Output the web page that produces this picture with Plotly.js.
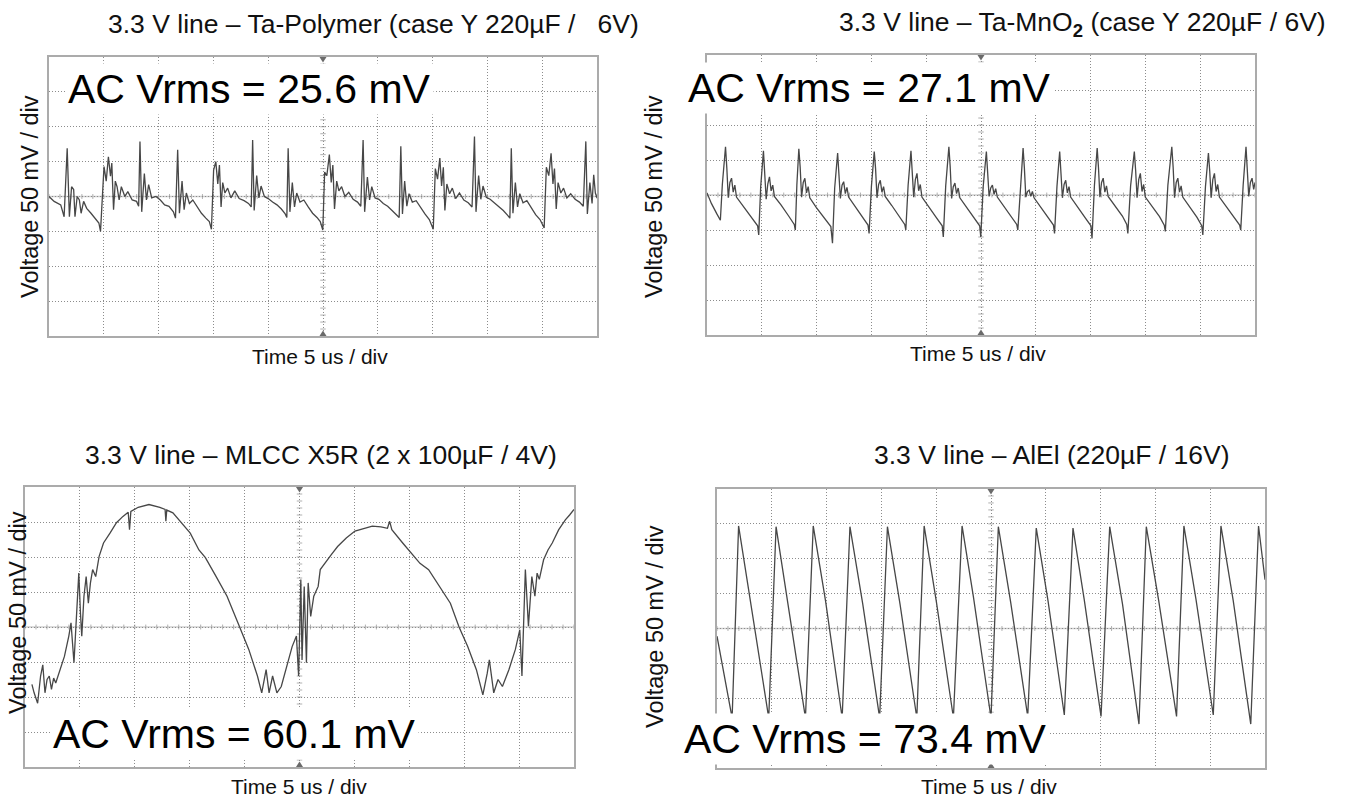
<!DOCTYPE html>
<html><head><meta charset="utf-8">
<script src="https://cdn.plot.ly/plotly-3.0.1.min.js"></script>
<style>html,body{margin:0;padding:0;background:#fff;overflow:hidden}#chart{width:1346px;height:799px}</style>
</head><body><div id="chart"></div>
<script>
// ---------------- data (time in µs, voltage in mV; 5 µs/div, 50 mV/div) ----------------
const panelTitles = [
  '3.3 V line \u2013 Ta-Polymer (case Y 220\u00b5F /\u00a0\u00a0 6V)',
  '3.3 V line \u2013 Ta-MnO<sub><b>2</b></sub> (case Y 220\u00b5F / 6V)',
  '3.3 V line \u2013 MLCC X5R (2 x 100\u00b5F / 4V)',
  '3.3 V line \u2013 AlEl (220\u00b5F / 16V)'
];
const acVrmsTexts = ['AC Vrms = 25.6 mV', 'AC Vrms = 27.1 mV', 'AC Vrms = 60.1 mV', 'AC Vrms = 73.4 mV'];
const yLabelText = 'Voltage 50 mV / div';
const xLabelText = 'Time 5 us / div';

const timeTaPolymer = [0.00,0.47,1.07,1.38,1.66,1.86,2.06,2.25,2.37,2.57,2.77,2.93,3.16,3.44,3.83,4.23,4.55,4.70,
  5.02,5.22,5.42,5.61,5.73,5.89,6.05,6.21,6.40,6.60,6.92,7.19,7.59,7.99,8.18,8.30,8.46,8.70,8.89,9.09,9.37,9.76,10.16,10.55,10.95,11.35,11.54,11.74,11.90,12.14,12.33,12.53,12.81,13.12,13.52,13.91,14.31,14.63,14.82,
  15.02,15.22,15.40,15.55,15.70,15.85,16.05,16.30,16.60,16.95,17.35,17.80,18.20,18.45,18.58,18.72,18.95,19.15,19.35,19.65,20.00,20.40,20.80,21.20,21.55,21.70,21.82,21.98,22.20,22.40,22.60,22.90,23.25,23.65,24.05,24.45,24.75,24.98,
  25.15,25.35,25.58,25.75,25.90,26.05,26.25,26.45,26.70,27.00,27.35,27.75,28.15,28.45,28.66,28.80,29.05,29.25,29.45,29.75,30.10,30.50,30.90,31.30,31.70,31.95,32.10,32.25,32.45,32.65,32.85,33.15,33.50,33.90,34.30,34.70,35.06,
  35.25,35.45,35.66,35.82,35.98,36.12,36.30,36.55,36.80,37.10,37.45,37.85,38.25,38.60,38.82,38.96,39.20,39.40,39.60,39.90,40.25,40.65,41.05,41.45,41.85,42.05,42.18,42.33,42.55,42.75,42.95,43.25,43.60,44.00,44.40,44.80,45.18,
  45.38,45.60,45.81,45.98,46.12,46.28,46.45,46.70,46.95,47.25,47.60,48.00,48.40,48.75,48.98,49.12,49.35,49.55,49.70,49.85,50.00];
const voltTaPolymer = [0,-7,-12,-29,69,-29,14,10,-29,0,-5,-24,-7,-17,-24,-31,-38,-50,
  43,22,57,29,48,-19,22,14,-5,14,0,7,-5,-7,-14,79,-22,33,-5,17,-2,0,-5,-12,-14,-22,-31,67,-24,22,-19,5,-10,-5,-14,-24,-31,-36,-47,
  38,50,18,45,-15,20,5,12,-2,8,-3,-6,-10,-15,81,-20,30,-2,15,0,-3,-8,-12,-18,-25,-30,69,-22,20,-15,5,-8,-5,-15,-24,-30,-36,-48,
  35,30,60,20,45,-18,22,8,14,0,6,-4,-8,-14,81,-22,28,-5,14,-2,-4,-10,-14,-20,-26,-30,72,-25,22,-14,4,-8,-6,-16,-25,-33,-47,
  40,25,55,15,42,-20,18,4,12,-3,5,-5,-9,-15,86,-22,30,-4,15,-1,-4,-9,-14,-20,-27,-31,69,-24,20,-15,4,-9,-6,-16,-26,-33,-45,
  42,30,62,18,40,-18,20,5,12,-2,4,-4,-8,-14,79,-25,20,-10,31,5,-2];

const timeTaMnO2 = [0,0.40,0.90,
  1.22,1.40,1.69,1.81,1.94,2.09,2.24,2.39,2.54,2.69,3.29,3.99,4.62,4.72,
  4.90,5.15,5.27,5.40,5.55,5.70,5.85,6.00,6.15,6.75,7.45,7.96,8.06,
  8.20,8.38,8.50,8.63,8.78,8.93,9.08,9.23,9.38,9.98,10.68,11.30,11.45,
  11.65,11.92,12.04,12.17,12.32,12.47,12.62,12.77,12.92,13.52,14.22,14.69,14.79,
  15.00,15.26,15.38,15.51,15.66,15.81,15.96,16.11,16.26,16.86,17.56,18.04,18.14,
  18.35,18.61,18.73,18.86,19.01,19.16,19.31,19.46,19.61,20.21,20.91,21.46,21.56,
  21.78,22.07,22.19,22.32,22.47,22.62,22.77,22.92,23.07,23.67,24.37,24.88,24.98,
  25.20,25.49,25.61,25.74,25.89,26.04,26.19,26.34,26.49,27.09,27.79,28.26,28.36,
  28.58,28.84,28.96,29.09,29.24,29.39,29.54,29.69,29.84,30.44,31.14,31.61,31.71,
  31.93,32.18,32.30,32.43,32.58,32.73,32.88,33.03,33.18,33.78,34.48,35.03,35.13,
  35.35,35.60,35.72,35.85,36.00,36.15,36.30,36.45,36.60,37.20,37.90,38.30,38.40,
  38.65,38.99,39.11,39.24,39.39,39.54,39.69,39.84,39.99,40.59,41.29,41.72,41.82,
  42.05,42.41,42.53,42.66,42.81,42.96,43.11,43.26,43.41,44.01,44.71,45.14,45.24,
  45.48,45.75,45.87,46.00,46.15,46.30,46.45,46.60,46.75,47.35,48.05,48.60,48.70,
  48.92,49.18,49.30,49.43,49.58,49.73,49.88,50.00];
const voltTaMnO2 = [3,-12,-27,
  -36,15,69,38,-4,18,24,4,14,-3,-16,-32,-44,-57,
  12,63,36,-6,16,26,6,14,-2,-14,-30,-42,-50,
  15,66,40,-3,18,24,3,12,-4,-18,-33,-45,-69,
  10,60,33,-5,14,19,2,11,-3,-16,-31,-43,-55,
  12,62,38,-4,15,21,4,12,-2,-15,-31,-42,-50,
  14,63,36,-3,22,31,6,15,-3,-17,-32,-44,-60,
  13,69,40,-5,12,17,2,10,-4,-17,-32,-44,-60,
  12,62,36,-2,10,14,1,9,-3,-16,-31,-42,-50,
  12,67,38,-3,5,7,-2,5,-4,-17,-32,-43,-55,
  12,62,35,-4,15,21,3,12,-3,-17,-32,-44,-62,
  14,67,39,-3,18,24,4,13,-2,-15,-30,-42,-55,
  13,62,35,-4,22,31,5,15,-3,-16,-31,-43,-52,
  14,69,40,-4,18,24,4,13,-3,-17,-32,-44,-57,
  12,60,34,-4,22,31,5,15,-3,-16,-31,-43,-50,
  14,69,38,-2,18,24,8,18];

const timeMLCC = [0.63,0.83,1.15,1.42,1.62,1.82,2.01,2.21,2.41,2.61,2.80,3.20,3.59,3.99,4.19,4.46,4.70,4.90,5.05,5.17,
  5.37,5.57,5.77,5.96,6.16,6.44,6.75,7.15,7.74,8.33,8.92,9.40,9.52,9.64,10.31,11.29,12.28,12.76,12.83,12.91,
  13.47,14.26,15.05,15.84,16.43,17.41,18.40,19.39,20.38,21.17,21.56,21.96,22.23,22.55,22.94,23.34,23.73,24.33,24.72,24.92,
  25.12,25.23,25.43,25.63,25.79,26.02,26.30,26.70,26.89,27.29,27.88,28.47,29.26,30.05,30.84,31.63,32.42,33.01,33.21,33.41,
  34.40,35.19,35.97,36.76,37.36,37.95,38.74,39.53,40.32,41.11,41.70,42.10,42.29,42.69,43.08,43.48,44.07,44.66,45.06,45.26,
  45.57,45.85,46.16,46.44,46.64,46.84,47.23,47.63,48.02,48.61,49.21,49.60,50.00];
const voltMLCC = [-82,-94,-109,-70,-54,-94,-75,-70,-89,-73,-80,-61,-42,-13,6,-51,25,77,20,-13,
  44,72,34,63,82,72,101,120,134,149,158,164,139,165,171,175,171,168,151,167,
  163,149,134,110,99,72,44,6,-32,-70,-94,-61,-94,-70,-94,-85,-61,-28,-13,-70,
  68,-47,58,-51,63,15,44,58,82,91,103,115,127,137,141,144,143,141,151,139,
  120,106,91,82,68,53,34,0,-28,-61,-97,-66,-47,-94,-75,-85,-61,-32,-4,-70,
  82,1,72,44,77,68,96,110,120,139,153,160,168];

const timeAlEl = [0,0.70,1.38,1.97,3.00,4.72,5.39,6.50,8.07,8.78,9.90,11.42,12.13,13.30,14.84,15.55,16.70,18.23,
  18.90,20.00,21.57,22.36,23.40,25.00,25.67,26.80,28.35,29.13,30.20,31.69,32.48,33.50,35.04,35.83,37.00,38.50,
  39.17,40.30,41.93,42.60,43.70,45.28,45.98,47.10,48.70,49.41,50.00];
const voltAlEl = [-11,-70,-128,147,45,-128,146,35,-128,147,40,-128,146,35,-128,146,35,-128,
  147,40,-128,147,45,-128,146,37,-126,144,40,-124,144,42,-126,146,35,-137,
  146,40,-126,147,42,-124,147,40,-137,147,70];

// ---------------- layout constants (pixels in a 1346x799 page) ----------------
const W = 1346, H = 799;
const boxes = [
  {l: 49, t: 57, r: 597, b: 336},
  {l: 707, t: 55, r: 1255, b: 335},
  {l: 25, t: 487, r: 574, b: 767},
  {l: 717, t: 489, r: 1265, b: 768}
];
const titlePos = [[373, 24], [1082, 24], [321, 455], [1052, 455]];
const acPos = [[65, 89], [685, 88], [50, 734], [681, 739]];
const yLabPos = [[30, 197], [654, 197], [18, 613], [655, 627]];
const xLabPos = [[320, 356], [978, 353], [299, 786], [989, 786]];
const series = [
  [timeTaPolymer, voltTaPolymer],
  [timeTaMnO2, voltTaMnO2],
  [timeMLCC, voltMLCC],
  [timeAlEl, voltAlEl]
];
const font = 'Arial, "Liberation Sans", sans-serif';
const T_RANGE = [0, 50], V_RANGE = [-200, 200];
const px = x => x / W, py = y => 1 - y / H;

const traces = [];
const layout = {
  width: W, height: H, margin: {l: 0, r: 0, t: 0, b: 0},
  paper_bgcolor: '#fff', plot_bgcolor: '#fff', showlegend: false,
  font: {family: font, color: '#000'},
  annotations: [], shapes: []
};

boxes.forEach((b, i) => {
  const n = i === 0 ? '' : String(i + 1);
  const xa = 'xaxis' + n, ya = 'yaxis' + n, xr = 'x' + n, yr = 'y' + n;
  const common = {
    showgrid: true, gridcolor: '#8c8c8c', griddash: '1px,2px', gridwidth: 1,
    zeroline: false, showline: true, mirror: true, linecolor: '#ababab', linewidth: 2,
    ticks: '', showticklabels: false, fixedrange: true, layer: 'below traces'
  };
  layout[xa] = Object.assign({}, common, {domain: [px(b.l), px(b.r)], range: T_RANGE, tick0: 0, dtick: 5, anchor: yr});
  layout[ya] = Object.assign({}, common, {domain: [py(b.b), py(b.t)], range: V_RANGE, tick0: -200, dtick: 50, anchor: xr});

  traces.push({
    type: 'scatter', mode: 'lines', x: series[i][0], y: series[i][1],
    xaxis: xr, yaxis: yr, line: {color: '#474747', width: 1.3}, hoverinfo: 'skip', cliponaxis: true
  });

  // centre cross with minor ticks (0.2 div)
  const tc = (T_RANGE[0] + T_RANGE[1]) / 2;
  const hT = 3.5, wT = 0.25;
  let p1 = '';
  for (let t = T_RANGE[0]; t <= T_RANGE[1] + 1e-9; t += 1) p1 += `M${t},${-hT}L${t},${hT}`;
  let p2 = '';
  for (let v = V_RANGE[0]; v <= V_RANGE[1] + 1e-9; v += 10) p2 += `M${tc - wT},${v}L${tc + wT},${v}`;
  layout.shapes.push(
    {type: 'line', xref: xr, yref: yr, x0: T_RANGE[0], x1: T_RANGE[1], y0: 0, y1: 0, line: {color: '#cfcfcf', width: 1.5}, layer: 'below'},
    {type: 'path', xref: xr, yref: yr, path: p1, line: {color: '#b0b0b0', width: 1}, layer: 'below'},
    {type: 'path', xref: xr, yref: yr, path: p2, line: {color: '#b0b0b0', width: 1}, layer: 'below'},
    {type: 'path', xref: xr, yref: yr, path: `M${tc - 0.32},${V_RANGE[1]}L${tc + 0.32},${V_RANGE[1]}L${tc},${V_RANGE[1] - 8}Z`, fillcolor: '#6a6a6a', line: {width: 0}},
    {type: 'path', xref: xr, yref: yr, path: `M${tc - 0.32},${V_RANGE[0]}L${tc + 0.32},${V_RANGE[0]}L${tc},${V_RANGE[0] + 8}Z`, fillcolor: '#6a6a6a', line: {width: 0}}
  );

  layout.annotations.push(
    {xref: 'paper', yref: 'paper', x: px(titlePos[i][0]), y: py(titlePos[i][1]), xanchor: 'center', yanchor: 'middle',
     text: panelTitles[i], showarrow: false, font: {family: font, size: 26.5, color: '#111'}},
    {xref: 'paper', yref: 'paper', x: px(acPos[i][0]), y: py(acPos[i][1]), xanchor: 'left', yanchor: 'middle',
     text: acVrmsTexts[i], showarrow: false, bgcolor: '#fff', borderpad: 2, font: {family: font, size: 41, color: '#000'}},
    {xref: 'paper', yref: 'paper', x: px(yLabPos[i][0]), y: py(yLabPos[i][1]), xanchor: 'center', yanchor: 'middle',
     text: yLabelText, textangle: -90, showarrow: false, font: {family: font, size: 23.5, color: '#111'}},
    {xref: 'paper', yref: 'paper', x: px(xLabPos[i][0]), y: py(xLabPos[i][1]), xanchor: 'center', yanchor: 'middle',
     text: xLabelText, showarrow: false, font: {family: font, size: 21, color: '#111'}}
  );
});

Plotly.newPlot('chart', traces, layout, {staticPlot: true, displayModeBar: false});
</script>
</body></html>
